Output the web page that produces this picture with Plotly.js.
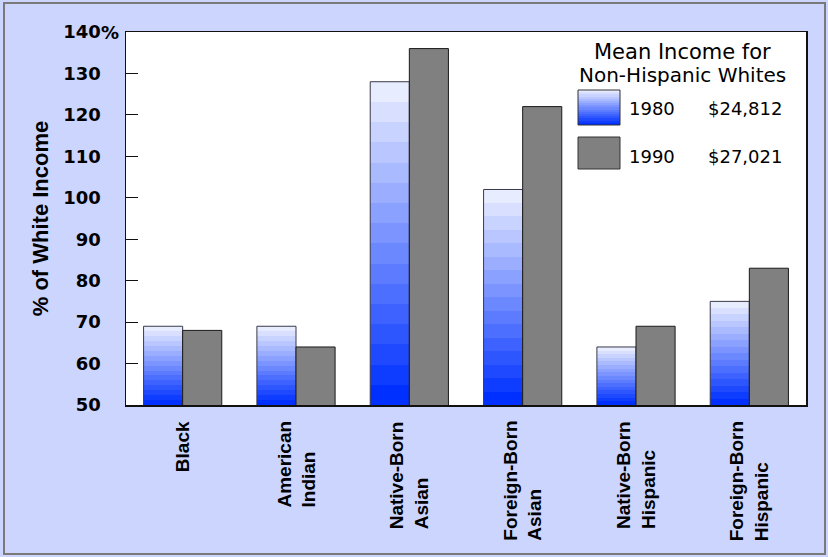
<!DOCTYPE html>
<html><head><meta charset="utf-8">
<script src="https://cdn.plot.ly/plotly-3.0.1.min.js"></script>
<style>
html,body{margin:0;padding:0;background:#ccd5fe;}
#wrap{position:relative;width:828px;height:557px;}
#chart{width:828px;height:557px;}
#frame{position:absolute;left:3px;top:2px;width:819px;height:549px;border:2px solid #7a7a7a;pointer-events:none;}
</style></head>
<body><div id="wrap"><div id="chart"></div><div id="frame"></div></div>
<script>
const categories = ['Black','American Indian','Native-Born Asian','Foreign-Born Asian','Native-Born Hispanic','Foreign-Born Hispanic'];
const categoryLabels = ['Black','American<br>Indian','Native-Born<br>Asian','Foreign-Born<br>Asian','Native-Born<br>Hispanic','Foreign-Born<br>Hispanic'];
const values1980 = [69,69,128,102,64,75];
const values1990 = [68,64,136,122,69,83];
const yTickVals = [50,60,70,80,90,100,110,120,130,140];
const yTickText = ['50','60','70','80','90','100','110','120','130','140'];
const legendTitle = ['Mean Income for','Non-Hispanic Whites'];
const legendYears = ['1980','1990'];
const legendIncome = ['$24,812','$27,021'];
const yTitle = '% of White Income';

const L=126, R=806, T=32, B=405;
const W=R-L, H=B-T;
const px = x => (x-L)/W;
const py = y => (B-y)/H;

const data = [
  {type:'bar', x:categories, y:values1980, name:legendYears[0],
   marker:{color:'#4a6cff', line:{color:'#3a3a4a', width:1}}},
  {type:'bar', x:categories, y:values1990, name:legendYears[1],
   marker:{color:'#808080', line:{color:'#1a1a1a', width:1}}}
];

const annotations = [];
categories.forEach((c,i)=>{
  annotations.push({x:c, xref:'x', y:py(419), yref:'paper', text:categoryLabels[i],
    showarrow:false, textangle:-90, align:'left', xanchor:'center', yanchor:'top',
    font:{family:'Liberation Sans, Arial, sans-serif', size:19, color:'#000', weight:'bold'}});
});
annotations.push({x:px(99), y:1, xref:'paper', yref:'paper', text:'%', showarrow:false,
  xanchor:'left', yanchor:'middle',
  font:{family:'DejaVu Sans, sans-serif', size:18, color:'#000', weight:'bold'}});
annotations.push({x:px(682), y:py(52), xref:'paper', yref:'paper', text:legendTitle[0], showarrow:false,
  xanchor:'center', yanchor:'middle', font:{family:'DejaVu Sans, sans-serif', size:21, color:'#000'}});
annotations.push({x:px(682), y:py(75), xref:'paper', yref:'paper', text:legendTitle[1], showarrow:false,
  xanchor:'center', yanchor:'middle', font:{family:'DejaVu Sans, sans-serif', size:20, color:'#000'}});
const rowY=[108,156];
legendYears.forEach((yr,i)=>{
  annotations.push({x:px(627), y:py(rowY[i]), xref:'paper', yref:'paper', text:yr, showarrow:false,
    xanchor:'left', yanchor:'middle', font:{family:'DejaVu Sans, sans-serif', size:18, color:'#000'}});
  annotations.push({x:px(784), y:py(rowY[i]), xref:'paper', yref:'paper', text:legendIncome[i], showarrow:false,
    xanchor:'right', yanchor:'middle', font:{family:'DejaVu Sans, sans-serif', size:18, color:'#000'}});
});

const shapes = [
  {type:'rect', xref:'paper', yref:'paper', x0:px(578), x1:px(620), y0:py(125), y1:py(90),
   fillcolor:'#4a6cff', line:{color:'#333', width:1}},
  {type:'rect', xref:'paper', yref:'paper', x0:px(578), x1:px(620), y0:py(169), y1:py(137),
   fillcolor:'#808080', line:{color:'#333', width:1}}
];

const layout = {
  width:828, height:557,
  margin:{l:L, r:828-R, t:T, b:557-B},
  paper_bgcolor:'#ccd5fe', plot_bgcolor:'#ffffff',
  barmode:'group', bargap:0.31, bargroupgap:0,
  showlegend:false,
  xaxis:{showticklabels:false, ticks:'', showline:true, mirror:true, linecolor:'#111', linewidth:1.5,
         showgrid:false, zeroline:false, fixedrange:true},
  yaxis:{range:[50,140], tickvals:yTickVals, ticktext:yTickText, ticks:'inside', ticklen:12,
         tickwidth:1, tickcolor:'#111', showline:true, mirror:true, linecolor:'#111', linewidth:1.5,
         showgrid:false, zeroline:false, ticklabelstandoff:20,
         tickfont:{family:'DejaVu Sans, sans-serif', size:18, color:'#000', weight:'bold'},
         title:{text:yTitle, standoff:8, font:{family:'Liberation Sans, Arial, sans-serif', size:22, color:'#000', weight:'bold'}}},
  annotations:annotations, shapes:shapes
};

function hex(c){return [parseInt(c.slice(1,3),16),parseInt(c.slice(3,5),16),parseInt(c.slice(5,7),16)];}
function mix(a,b,t){const A=hex(a),B=hex(b);return 'rgb('+A.map((v,i)=>Math.round(v+(B[i]-v)*t)).join(',')+')';}

Plotly.newPlot('chart', data, layout, {staticPlot:true, displayModeBar:false}).then(gd=>{
  const NS='http://www.w3.org/2000/svg';
  const svg = gd.querySelector('.main-svg');
  let defs = svg.querySelector('defs');
  if(!defs){defs=document.createElementNS(NS,'defs'); svg.insertBefore(defs, svg.firstChild);}
  const TOP='#e8ecff', BOT='#0030ff', NB=16;
  function makeGrad(id, y1, y2){
    const g = document.createElementNS(NS,'linearGradient');
    g.setAttribute('id',id); g.setAttribute('x1','0'); g.setAttribute('x2','0');
    if(y1===null){g.setAttribute('y1','0'); g.setAttribute('y2','1');}
    else {g.setAttribute('gradientUnits','userSpaceOnUse'); g.setAttribute('y1',y1); g.setAttribute('y2',y2);}
    for(let k=0;k<NB;k++){
      const col = mix(TOP,BOT,k/(NB-1));
      [k/NB,(k+1)/NB].forEach(o=>{
        const s=document.createElementNS(NS,'stop'); s.setAttribute('offset',o); s.setAttribute('stop-color',col); g.appendChild(s);
      });
    }
    defs.appendChild(g);
  }
  const bottom = gd._fullLayout.yaxis._length;
  const traces = gd.querySelectorAll('.barlayer .trace');
  if(traces[0]) traces[0].querySelectorAll('path').forEach((p,i)=>{
    const bb = p.getBBox();
    const id='g1980_'+i;
    makeGrad(id, bb.y, bottom);
    p.style.fill='url(#'+id+')';
  });
  makeGrad('g1980sw', null, null);
  gd.querySelectorAll('.shapelayer path').forEach(p=>{
    const f=p.style.fill||'';
    if(f.indexOf('74, 108, 255')>=0 || f.indexOf('#4a6cff')>=0) p.style.fill='url(#g1980sw)';
  });
});
</script>
</body></html>
